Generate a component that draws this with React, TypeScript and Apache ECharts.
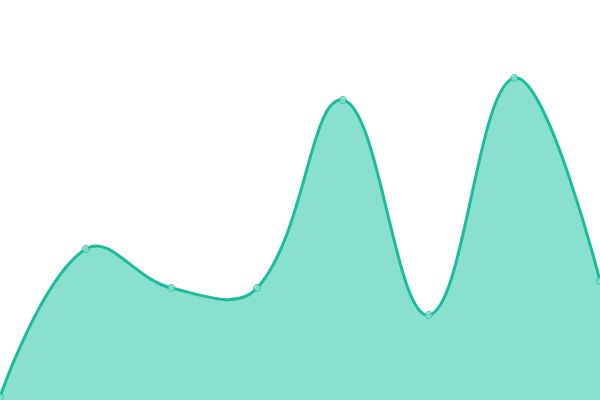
import React, { useEffect, useRef } from "react";
import * as echarts from "echarts";

const categories = ["A", "B", "C", "D", "E", "F", "G", "H"];
const values = [3, 151, 112, 112, 300, 85, 322, 119];

const LINE = "#1abc9c";
const FILL = "#8ae0cf";
const SMOOTH = 0.4;

function controlPoints(pts: number[][]) {
  const cps: number[][] = [];
  const n = pts.length;
  for (let i = 0; i < n; i++) {
    const p = pts[i];
    if (i === 0 || i === n - 1) {
      cps.push([p[0], p[1]], [p[0], p[1]]);
      continue;
    }
    const prev = pts[i - 1];
    const next = pts[i + 1];
    const vx = (next[0] - prev[0]) * SMOOTH;
    const vy = (next[1] - prev[1]) * SMOOTH;
    const d0 = Math.hypot(p[0] - prev[0], p[1] - prev[1]);
    const d1 = Math.hypot(p[0] - next[0], p[1] - next[1]);
    const s = d0 + d1 || 1;
    const r0 = d0 / s;
    const r1 = d1 / s;
    cps.push([p[0] - vx * r0, p[1] - vy * r0], [p[0] + vx * r1, p[1] + vy * r1]);
  }
  return cps;
}

function curvePath(pts: number[][]) {
  const cps = controlPoints(pts);
  let d = `M${pts[0][0]},${pts[0][1]}`;
  for (let i = 0; i < pts.length - 1; i++) {
    const c1 = cps[2 * i + 1];
    const c2 = cps[2 * (i + 1)];
    const p = pts[i + 1];
    d += ` C${c1[0]},${c1[1]} ${c2[0]},${c2[1]} ${p[0]},${p[1]}`;
  }
  return d;
}

export default function App() {
  const ref = useRef<HTMLDivElement>(null);
  useEffect(() => {
    document.body.style.margin = "0";
    const chart = echarts.init(ref.current!, null, { renderer: "svg" });
    chart.setOption({
      animation: false,
      grid: { left: 0, right: 0, top: 0, bottom: 0 },
      xAxis: {
        type: "category",
        data: categories,
        boundaryGap: false,
        show: false,
      },
      yAxis: { type: "value", min: 0, max: 400, show: false },
      series: [
        {
          type: "custom",
          data: values.map((v, i) => [i, v]),
          clip: false,
          renderItem: (params: any, api: any) => {
            if (params.dataIndex !== 0) return null;
            const pts = values.map((v, i) => api.coord([i, v]));
            const base = api.coord([0, 0])[1];
            const line = curvePath(pts);
            const last = pts[pts.length - 1];
            const area = `${line} L${last[0]},${base} L${pts[0][0]},${base} Z`;
            return {
              type: "group",
              children: [
                {
                  type: "path",
                  shape: { pathData: area },
                  style: { fill: FILL, stroke: "none" },
                },
                {
                  type: "path",
                  shape: { pathData: line },
                  style: { fill: "none", stroke: LINE, lineWidth: 3 },
                },
              ],
            };
          },
          z: 1,
        },
        {
          type: "scatter",
          data: values.map((v, i) => [i, v]),
          symbol: "circle",
          symbolSize: 7,
          itemStyle: { color: FILL, borderColor: LINE, borderWidth: 1 },
          z: 2,
        },
      ],
    });
    return () => chart.dispose();
  }, []);
  return <div ref={ref} style={{ width: 600, height: 400 }} />;
}
